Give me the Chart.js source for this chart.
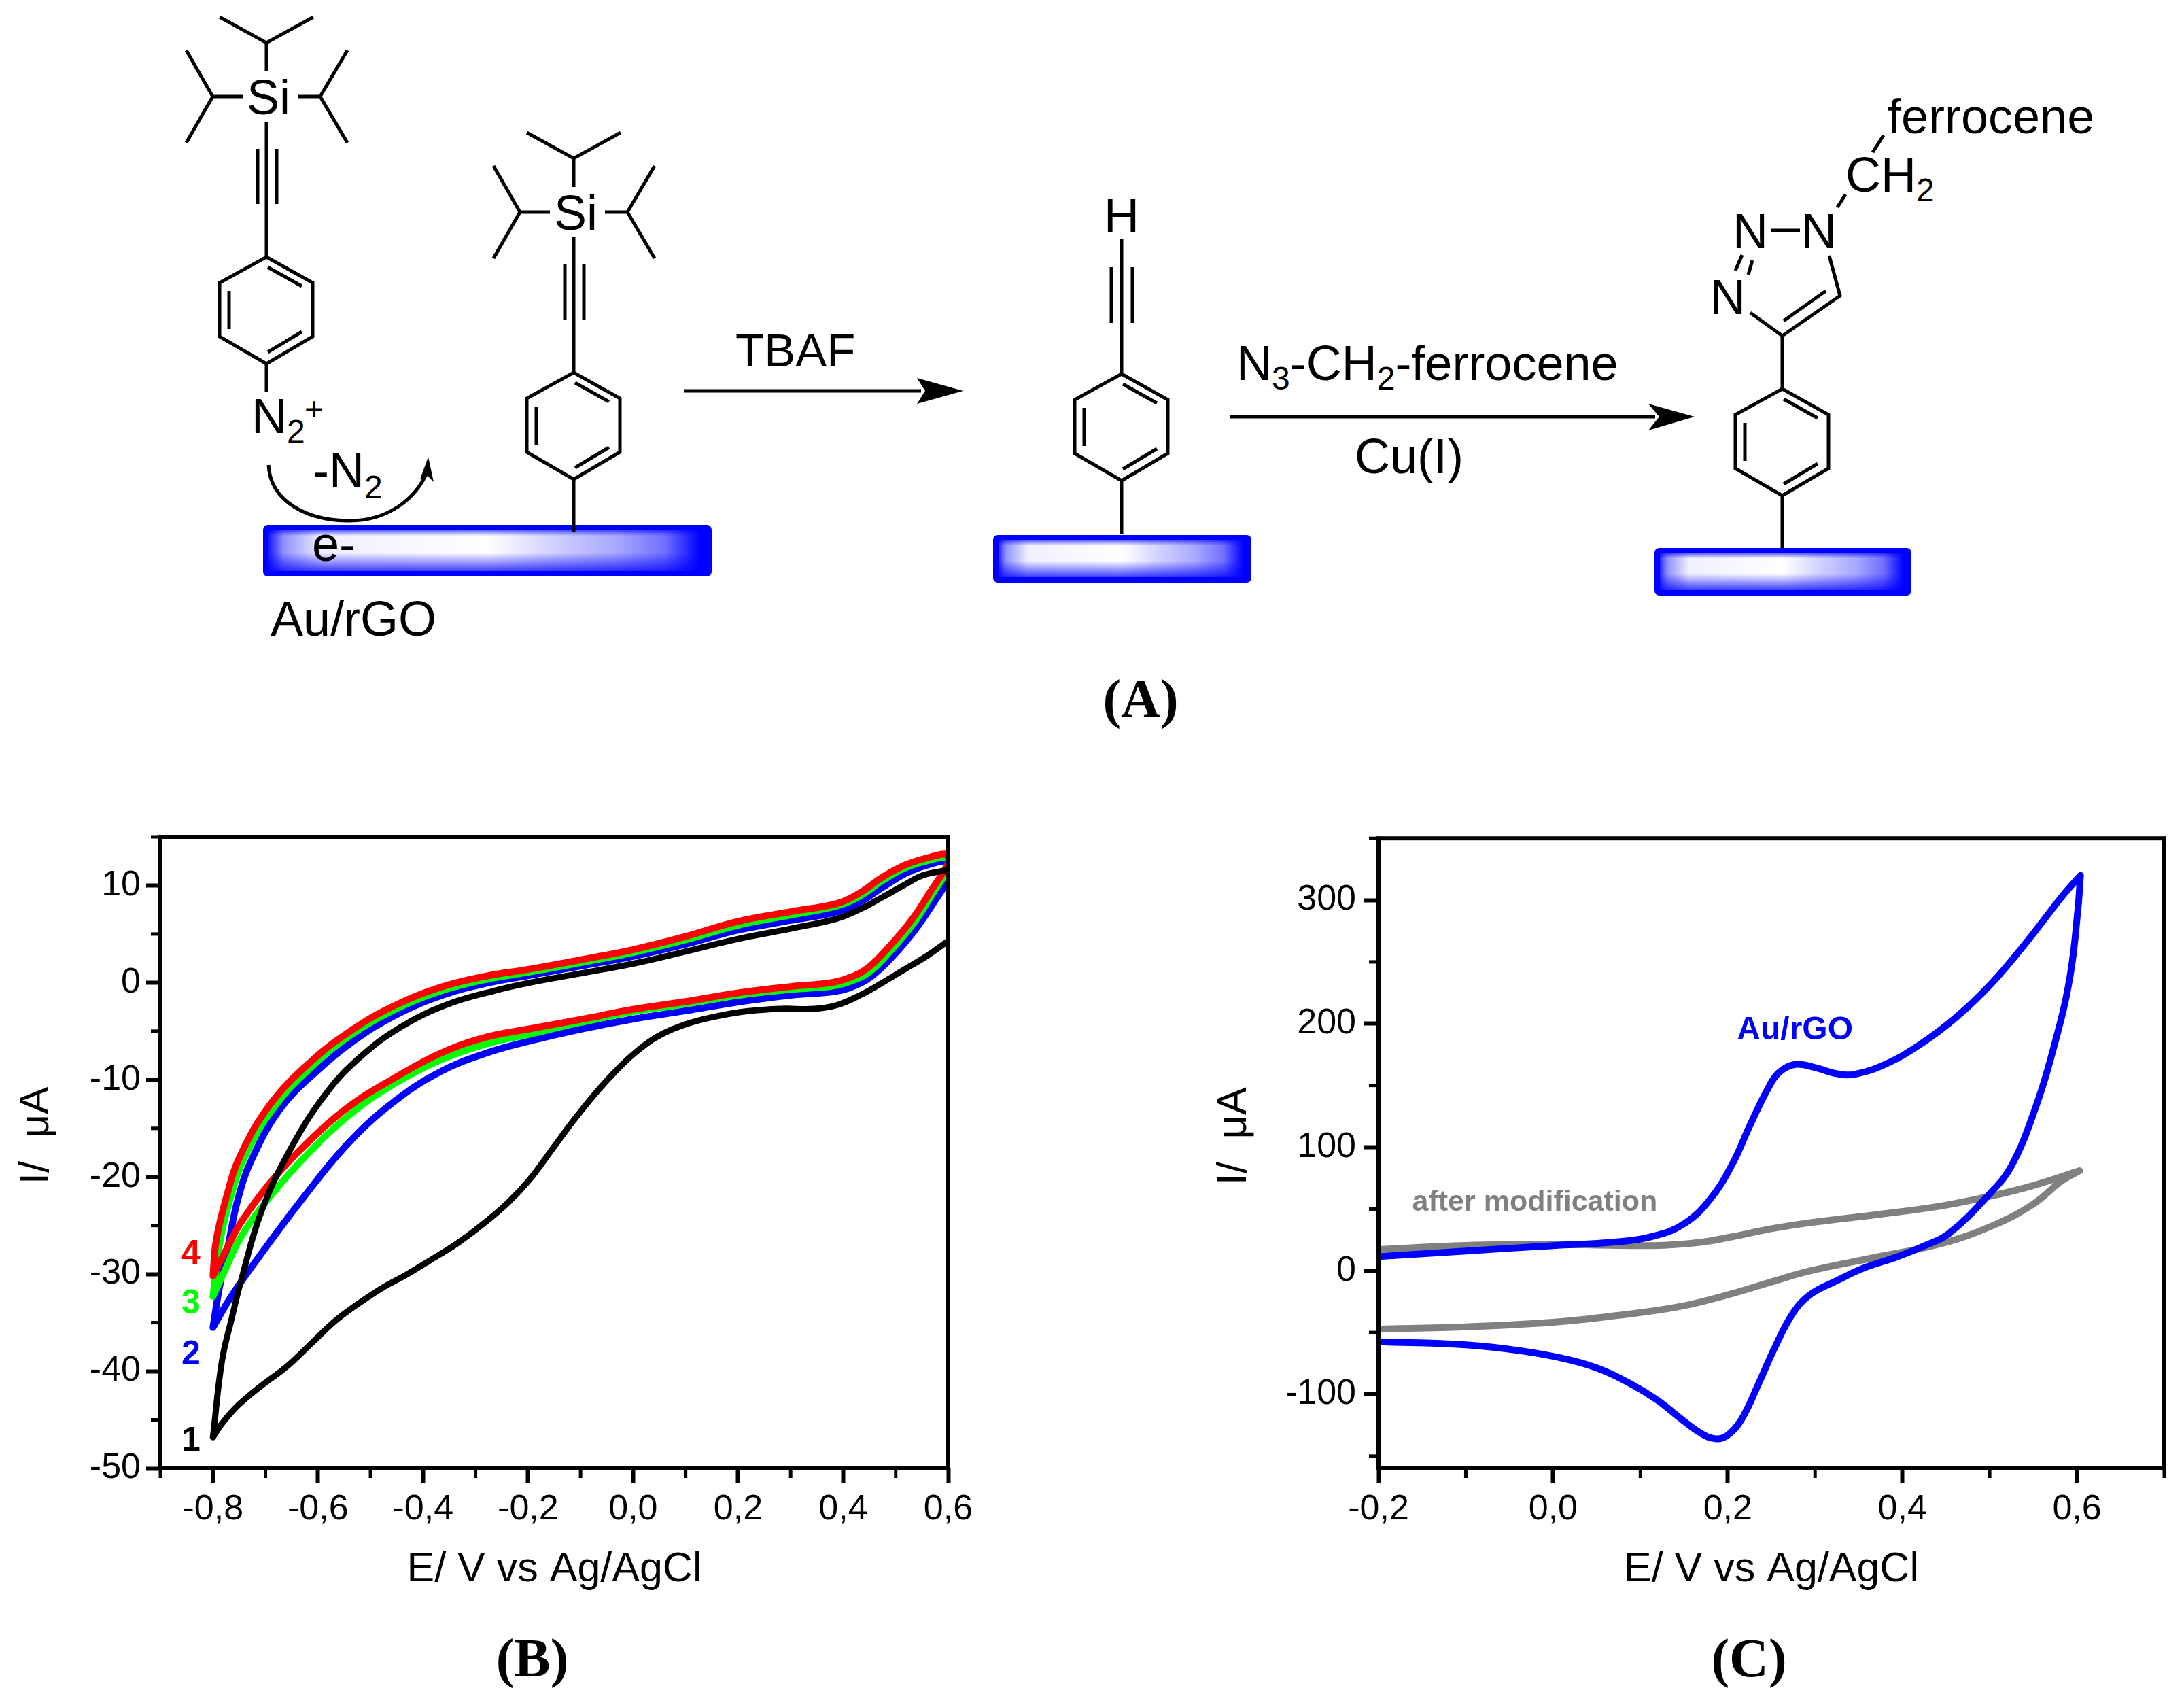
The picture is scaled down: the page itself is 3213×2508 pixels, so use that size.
<!DOCTYPE html>
<html lang="en">
<head>
<meta charset="UTF-8">
<title>Au/rGO modification scheme and cyclic voltammograms</title>
<script src="https://cdn.jsdelivr.net/npm/chart.js"></script>
<style>
    html, body { margin: 0; padding: 0; background: #fff; }
    #page { position: relative; width: 3213px; height: 2508px; overflow: hidden; background: #fff; }
    #scheme { position: absolute; left: 0; top: 0; }
    #scheme text { font-family: "Liberation Sans", Arial, sans-serif; font-size: 72px; fill: #000; }
    #scheme text.panel { font-family: "Liberation Serif", serif; font-weight: bold; font-size: 80px; text-anchor: middle; }
    canvas { position: absolute; display: block; }
    #chartB { left: 0; top: 1190px; }
    #chartC { left: 1700px; top: 1190px; }
</style>
</head>
<body>
<div id="page">
<svg id="scheme" width="3213" height="2508" viewBox="0 0 3213 2508">
    <defs>
        <linearGradient id="edgeH" x1="0" x2="1" y1="0" y2="0">
            <stop offset="0" stop-color="#0000ff"/>
            <stop offset="0.04" stop-color="#9090ff"/>
            <stop offset="0.127" stop-color="#f0f0ff"/>
            <stop offset="0.5" stop-color="#ffffff"/>
            <stop offset="0.65" stop-color="#d0d0ff"/>
            <stop offset="0.79" stop-color="#a8a8ff"/>
            <stop offset="0.9" stop-color="#7070ff"/>
            <stop offset="0.98" stop-color="#0000ff"/>
        </linearGradient>
        <linearGradient id="edgeV" x1="0" x2="0" y1="0" y2="1">
            <stop offset="0" stop-color="#0000ff" stop-opacity="0.6"/>
            <stop offset="0.14" stop-color="#0000ff" stop-opacity="0"/>
            <stop offset="0.55" stop-color="#0000ff" stop-opacity="0"/>
            <stop offset="1" stop-color="#0000ff" stop-opacity="0.75"/>
        </linearGradient>
        <g id="ring" fill="none" stroke="#000" stroke-width="5">
            <path d="M392 378L460 416V495L392 535L323 495V416Z"/>
            <path d="M394 393L444 421M337 428V484M394 518L444 488"/>
        </g>
        <g id="tips" fill="none" stroke="#000" stroke-width="5">
            <path d="M392 105V63M323 25L392 63L461 25"/>
            <path d="M357 142H313M274 74L313 142L274 210"/>
            <path d="M438 142H471M511 74L471 142L511 210"/>
            <path d="M392 179V378M379 219V300M407 219V300"/>
        </g>
    </defs>

    <use href="#tips"/>
    <use href="#ring"/>
    <text x="363" y="168">Si</text>
    <path d="M392 535V577" stroke="#000" stroke-width="5"/>
    <text x="370" y="637">N<tspan font-size="48" dy="14">2</tspan></text>
    <text x="448" y="618" style="font-size:48px">+</text>
    <path d="M395 684C398 740 455 766 514 766C570 766 612 735 630 691" fill="none" stroke="#000" stroke-width="5"/>
    <path d="M630 672L638 709L629 700L618 705Z" fill="#000"/>
    <text x="460" y="717">-N<tspan font-size="48" dy="16">2</tspan></text>

    <use href="#tips" x="452" y="170"/>
    <use href="#ring" x="452" y="170"/>
    <text x="815" y="338">Si</text>
    <path d="M844 705V782" stroke="#000" stroke-width="5"/>

    <rect x="391" y="776" width="652" height="68" rx="3" fill="url(#edgeH)" stroke="#0000ff" stroke-width="8"/>
    <rect x="395" y="780" width="644" height="60" fill="url(#edgeV)"/>
    <path d="M844 772V782" stroke="#000" stroke-width="5"/>
    <text x="459" y="825">e-</text>
    <text x="398" y="935">Au/rGO</text>

    <text x="1082" y="539" style="font-size:69px">TBAF</text>
    <path d="M1007 575H1355" stroke="#000" stroke-width="5"/>
    <path d="M1417 575L1349 556L1361 575L1349 594Z" fill="#000"/>

    <text x="1624" y="342">H</text>
    <path d="M1650 352V550M1635 393V475M1666 393V475" fill="none" stroke="#000" stroke-width="5"/>
    <use href="#ring" x="1258" y="172"/>
    <path d="M1650 707V786" stroke="#000" stroke-width="5"/>
    <rect x="1465" y="791" width="372" height="62" rx="3" fill="url(#edgeH)" stroke="#0000ff" stroke-width="8"/>
    <rect x="1469" y="795" width="364" height="54" fill="url(#edgeV)"/>

    <text x="1819" y="559">N<tspan font-size="48" dy="14">3</tspan><tspan dy="-14">-CH</tspan><tspan font-size="48" dy="14">2</tspan><tspan dy="-14">-ferrocene</tspan></text>
    <path d="M1810 613H2435" stroke="#000" stroke-width="5"/>
    <path d="M2493 613L2425 594L2441 613L2425 633Z" fill="#000"/>
    <text x="1993" y="696">Cu(I)</text>

    <use href="#ring" x="2230" y="194"/>
    <path d="M2622 729V806M2622 572V494" stroke="#000" stroke-width="5"/>
    <path d="M2575 460L2622 494L2707 435L2691 376M2686 428L2624 472M2605 339H2648M2563 375L2553 398M2578 383L2572 404M2715 286L2703 305M2771 199L2755 224" fill="none" stroke="#000" stroke-width="5"/>
    <text x="2549" y="365">N</text>
    <text x="2650" y="365">N</text>
    <text x="2516" y="462">N</text>
    <text x="2715" y="282">CH<tspan font-size="48" dy="14">2</tspan></text>
    <text x="2777" y="196">ferrocene</text>
    <rect x="2438" y="810" width="370" height="62" rx="3" fill="url(#edgeH)" stroke="#0000ff" stroke-width="8"/>
    <rect x="2442" y="814" width="362" height="54" fill="url(#edgeV)"/>

    <text class="panel" x="1678" y="1055">(A)</text>
    <text class="panel" x="783" y="2466">(B)</text>
    <text class="panel" x="2573" y="2466">(C)</text>
</svg>
<canvas id="chartB" width="1500" height="1170"></canvas>
<canvas id="chartC" width="1513" height="1170"></canvas>
</div>

<script>
    // panel B, curves 1 to 4: potential in V, current in uA (turning points listed twice)
    const curve1E = [0.6, 0.561, 0.518, 0.475, 0.432, 0.389, 0.346, 0.281, 0.217, 0.152, 0.1, 0.045, 0, -0.04, -0.078, -0.115, -0.152, -0.196, -0.239, -0.287, -0.334, -0.39, -0.433, -0.48, -0.56, -0.61, -0.659, -0.708, -0.752, -0.783, -0.8, -0.8, -0.783, -0.764, -0.747, -0.708, -0.652, -0.583, -0.514, -0.437, -0.351, -0.265, -0.196, -0.1, 0, 0.1, 0.2, 0.3, 0.389, 0.432, 0.475, 0.518, 0.552, 0.6];
    const curve1I = [4.3, 2.8, 1.4, 0, -1.3, -2.3, -2.7, -2.7, -2.95, -3.55, -4.3, -5.6, -7.4, -9.5, -11.8, -14.3, -17, -20.2, -22.7, -24.9, -26.8, -28.7, -30.1, -31.5, -34.5, -37, -39.5, -41.5, -43.5, -45.4, -46.8, -46.8, -39, -34.5, -30.8, -23.6, -17.1, -11.3, -7.4, -4.4, -2.2, -0.85, 0, 0.95, 1.95, 3.2, 4.5, 5.55, 6.6, 7.55, 8.8, 10.1, 11.05, 11.6];

    const curve2E = [-0.8, -0.8, -0.788, -0.77, -0.753, -0.727, -0.672, -0.6, -0.532, -0.454, -0.368, -0.282, -0.196, -0.1, 0, 0.1, 0.2, 0.3, 0.389, 0.432, 0.475, 0.518, 0.561, 0.6, 0.6, 0.574, 0.539, 0.496, 0.453, 0.414, 0.38, 0.3, 0.2, 0.1, 0, -0.1, -0.196, -0.282, -0.368, -0.454, -0.54, -0.626, -0.712, -0.764, -0.8, -0.8];
    const curve2I = [-35.5, -35.5, -31.5, -26.8, -22.4, -18.3, -13, -9, -6, -3.4, -1.4, -0.1, 0.75, 1.7, 2.7, 3.95, 5.4, 6.4, 7.3, 8.3, 9.8, 11.2, 12.1, 12.4, 10.8, 8.36, 5.58, 2.8, 0.6, -0.5, -0.95, -1.3, -2, -2.9, -3.75, -4.8, -6, -7.3, -9.2, -12.2, -16.4, -22, -28.2, -32.2, -35.5, -35.5];

    const curve3E = [-0.8, -0.8, -0.787, -0.768, -0.74, -0.682, -0.609, -0.54, -0.458, -0.368, -0.282, -0.196, -0.1, 0, 0.1, 0.2, 0.3, 0.389, 0.432, 0.475, 0.518, 0.561, 0.6, 0.6, 0.569, 0.535, 0.492, 0.449, 0.41, 0.376, 0.3, 0.2, 0.1, 0, -0.1, -0.196, -0.282, -0.368, -0.454, -0.54, -0.626, -0.691, -0.747, -0.777, -0.8, -0.8];
    const curve3I = [-32.3, -32.3, -26.8, -22.4, -18, -12.7, -8.5, -5.5, -2.9, -0.9, 0.3, 1.1, 2.05, 3.1, 4.4, 5.9, 6.95, 7.9, 8.9, 10.5, 11.8, 12.55, 12.85, 11.8, 9.05, 6.16, 3.38, 1.06, 0.05, -0.4, -0.7, -1.3, -2.2, -3, -4.1, -5.3, -6.35, -8, -10.4, -13.6, -18, -22, -26.2, -29.6, -32.3, -32.3];

    const curve4E = [-0.8, -0.8, -0.794, -0.775, -0.748, -0.689, -0.615, -0.544, -0.463, -0.368, -0.282, -0.196, -0.1, 0, 0.1, 0.2, 0.3, 0.389, 0.432, 0.475, 0.518, 0.561, 0.6, 0.6, 0.565, 0.531, 0.488, 0.445, 0.406, 0.371, 0.3, 0.2, 0.1, 0, -0.1, -0.196, -0.282, -0.368, -0.454, -0.54, -0.626, -0.691, -0.747, -0.768, -0.8, -0.8];
    const curve4I = [-30.2, -30.2, -26.6, -22.2, -17.8, -12.4, -8.2, -5.2, -2.6, -0.5, 0.65, 1.4, 2.35, 3.4, 4.75, 6.3, 7.3, 8.15, 9.25, 10.85, 12.1, 12.85, 13.2, 12.3, 9.28, 6.5, 3.73, 1.45, 0.4, -0.05, -0.4, -1.05, -1.95, -2.75, -3.8, -4.75, -5.65, -7.3, -9.8, -12.7, -16.8, -20.6, -24.7, -26.8, -30.2, -30.2];

    // panel C
    const auRgoE = [-0.2, -0.1, 0, 0.07, 0.115, 0.15, 0.18, 0.205, 0.225, 0.245, 0.258, 0.277, 0.3, 0.325, 0.345, 0.38, 0.42, 0.463, 0.504, 0.545, 0.584, 0.604, 0.604, 0.601, 0.592, 0.575, 0.551, 0.525, 0.501, 0.453, 0.423, 0.393, 0.355, 0.325, 0.295, 0.275, 0.254, 0.235, 0.216, 0.2, 0.186, 0.168, 0.145, 0.12, 0.09, 0.055, 0.018, -0.035, -0.1, -0.2];
    const auRgoI = [11.6, 16, 20.4, 23.2, 28, 38, 58, 86, 117, 146, 160, 167, 164.5, 159.5, 159, 167, 183, 206, 234, 268.5, 304, 320, 320, 292, 238, 185, 129, 85, 63, 30, 19.5, 11, 2, -8, -19, -34, -62, -92, -120, -133, -136, -131, -119, -105, -92, -80, -72, -65, -60, -57.5];

    const modifiedE = [-0.2, -0.1, 0, 0.115, 0.168, 0.205, 0.25, 0.295, 0.37, 0.445, 0.505, 0.55, 0.603, 0.603, 0.582, 0.55, 0.505, 0.445, 0.37, 0.295, 0.25, 0.205, 0.145, 0.07, 0, -0.1, -0.2];
    const modifiedI = [17.2, 20.5, 21.3, 20.4, 23, 27.5, 34, 39, 45.4, 52.5, 61, 69, 81, 81, 72.5, 54, 37, 22, 11, 0, -9, -18.5, -29, -36.5, -41.7, -45.4, -47.3];

    // axis ticks
    const xMajorB = [-0.8, -0.6, -0.4, -0.2, 0, 0.2, 0.4, 0.6];
    const xMinorB = [-0.9, -0.7, -0.5, -0.3, -0.1, 0.1, 0.3, 0.5];
    const yMajorB = [-50, -40, -30, -20, -10, 0, 10];
    const yMinorB = [-45, -35, -25, -15, -5, 5, 15];
    const xMajorC = [-0.2, 0, 0.2, 0.4, 0.6];
    const xMinorC = [-0.1, 0.1, 0.3, 0.5, 0.7];
    const yMajorC = [-100, 0, 100, 200, 300];
    const yMinorC = [-150, -50, 50, 150, 250, 350];

    // curve labels, anchored in data coordinates
    const labelsB = ['4', '3', '2', '1'];
    const labelsBE = [-0.842, -0.842, -0.842, -0.842];
    const labelsBI = [-28, -33.1, -38.3, -47.2];
    const labelsC = ['Au/rGO', 'after modification'];
    const labelsCE = [0.277, -0.021];
    const labelsCI = [194.7, 55];

    const FONT = '"Liberation Sans", Arial, sans-serif';

    function toPoints(es, is) {
        return es.map(function (e, i) { return { x: e, y: is[i] }; });
    }

    function curve(label, es, is, color, width) {
        return {
            label: label,
            data: toPoints(es, is),
            borderColor: color,
            borderWidth: width,
            pointRadius: 0,
            tension: 0.4,
            borderJoinStyle: 'round',
            borderCapStyle: 'round'
        };
    }

    function commaTick(v) {
        return v.toFixed(1).replace('.', ',');
    }

    // frame, minor ticks and the text labels next to the curves
    const panelDecor = {
        id: 'panelDecor',
        afterDraw: function (chart, args, opts) {
            const c = chart.ctx, a = chart.chartArea;
            const xs = chart.scales.x, ys = chart.scales.y;
            c.save();
            c.strokeStyle = '#000';
            c.lineWidth = 6;
            c.strokeRect(a.left, a.top, a.right - a.left, a.bottom - a.top);
            c.lineWidth = 5;
            opts.xMinor.forEach(function (v) {
                const p = xs.getPixelForValue(v);
                c.beginPath(); c.moveTo(p, a.bottom); c.lineTo(p, a.bottom + 14); c.stroke();
            });
            opts.yMinor.forEach(function (v) {
                const p = ys.getPixelForValue(v);
                c.beginPath(); c.moveTo(a.left, p); c.lineTo(a.left - 14, p); c.stroke();
            });
            c.textAlign = 'center';
            c.textBaseline = 'middle';
            opts.labels.forEach(function (t, i) {
                c.font = 'bold ' + opts.labelSizes[i] + 'px ' + FONT;
                c.fillStyle = opts.labelColors[i];
                c.fillText(t, xs.getPixelForValue(opts.labelE[i]), ys.getPixelForValue(opts.labelI[i]));
            });
            c.restore();
        }
    };

    function makeChart(id, datasets, s) {
        return new Chart(document.getElementById(id), {
            type: 'scatter',
            data: { datasets: datasets.map(function (d) { d.showLine = true; return d; }) },
            plugins: [panelDecor],
            options: {
                responsive: false,
                animation: false,
                devicePixelRatio: 1,
                layout: { padding: s.padding },
                plugins: {
                    legend: { display: false },
                    tooltip: { enabled: false },
                    panelDecor: s.decor
                },
                scales: {
                    x: {
                        type: 'linear',
                        min: s.xMin,
                        max: s.xMax,
                        afterBuildTicks: function (axis) { axis.ticks = s.xMajor.map(function (v) { return { value: v }; }); },
                        afterFit: function (axis) { axis.height = s.xHeight; },
                        grid: { drawOnChartArea: false, tickLength: 21, tickWidth: 6, tickColor: '#000' },
                        border: { display: false },
                        ticks: {
                            color: '#000',
                            autoSkip: false,
                            maxRotation: 0,
                            padding: 8,
                            font: { family: FONT, size: 52 },
                            callback: commaTick
                        },
                        title: {
                            display: true,
                            text: 'E/ V vs Ag/AgCl',
                            color: '#000',
                            font: { family: FONT, size: 61 },
                            padding: { top: 0, bottom: 14 }
                        }
                    },
                    y: {
                        type: 'linear',
                        min: s.yMin,
                        max: s.yMax,
                        afterBuildTicks: function (axis) { axis.ticks = s.yMajor.map(function (v) { return { value: v }; }); },
                        afterFit: function (axis) { axis.width = s.yWidth; },
                        grid: { drawOnChartArea: false, tickLength: 21, tickWidth: 6, tickColor: '#000' },
                        border: { display: false },
                        ticks: {
                            color: '#000',
                            autoSkip: false,
                            padding: s.yTickPad,
                            font: { family: FONT, size: 52 },
                            callback: function (v) { return String(v); }
                        },
                        title: {
                            display: true,
                            text: '   I/  μA',
                            color: '#000',
                            font: { family: FONT, size: 61 },
                            padding: { top: s.yTitleLeft, bottom: 0 }
                        }
                    }
                }
            }
        });
    }

    makeChart('chartB', [
        curve('1', curve1E, curve1I, '#000000', 9),
        curve('4', curve4E, curve4I, '#ff0000', 10),
        curve('3', curve3E, curve3I, '#00ff00', 10),
        curve('2', curve2E, curve2I, '#0000ff', 10)
    ], {
        xMin: -0.9, xMax: 0.6, yMin: -50, yMax: 15,
        xMajor: xMajorB, yMajor: yMajorB,
        xHeight: 200, yWidth: 236, yTitleLeft: 18, yTickPad: 8,
        padding: { top: 41, right: 105, bottom: 0, left: 0 },
        decor: {
            xMinor: xMinorB, yMinor: yMinorB,
            labels: labelsB, labelE: labelsBE, labelI: labelsBI,
            labelColors: ['#ff0000', '#00ff00', '#0000ff', '#000000'],
            labelSizes: [50, 50, 50, 50]
        }
    });

    makeChart('chartC', [
        curve('Au/rGO', auRgoE, auRgoI, '#0000ff', 10),
        curve('after modification', modifiedE, modifiedI, '#808080', 10)
    ], {
        xMin: -0.2, xMax: 0.7, yMin: -160, yMax: 350,
        xMajor: xMajorC, yMajor: yMajorC,
        xHeight: 200, yWidth: 328, yTitleLeft: 80, yTickPad: 12,
        padding: { top: 41, right: 29, bottom: 0, left: 0 },
        decor: {
            xMinor: xMinorC, yMinor: yMinorC,
            labels: labelsC, labelE: labelsCE, labelI: labelsCI,
            labelColors: ['#0000ff', '#808080'],
            labelSizes: [48, 43]
        }
    });
</script>
</body>
</html>
